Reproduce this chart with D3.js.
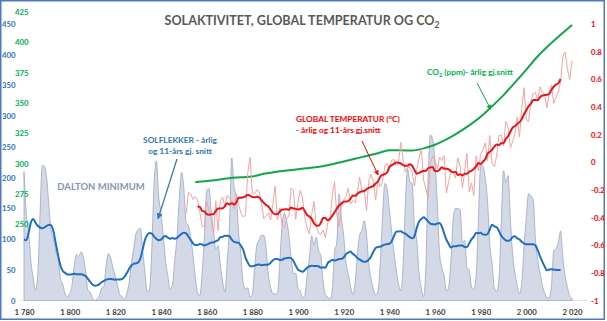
<!DOCTYPE html>
<html>
<head>
<meta charset="utf-8">
<script src="https://cdn.jsdelivr.net/npm/d3@7"></script>
<style>
  html, body { margin: 0; padding: 0; background: #fff; }
  svg { display: block; font-family: Lato, "Open Sans", sans-serif; font-weight: 700; }
</style>
</head>
<body>
<svg id="chart" width="607" height="321"></svg>
<script>
// ---- Data -------------------------------------------------------------

// Annual sunspot number, one value per year from 1780
const sunspotStart = 1780;
const sunspots = [
  209.8, 141.3, 113.5, 64.2, 38.0, 17.0, 40.2, 138.2, 220.0, 218.2,
  196.8, 149.8, 111.0, 100.0, 78.2, 68.3, 35.5, 26.7, 10.7, 6.8,
  11.3, 24.2, 56.7, 75.0, 71.8, 79.2, 70.3, 46.8, 16.8, 13.5,
  4.2, 0.0, 2.3, 8.3, 20.3, 23.2, 59.0, 76.3, 68.3, 52.9,
  38.5, 24.2, 9.2, 6.3, 2.2, 11.4, 28.2, 59.9, 83.0, 108.5,
  115.2, 117.4, 80.8, 44.3, 13.4, 19.5, 85.8, 192.7, 227.3, 168.7,
  143.0, 105.5, 63.3, 40.3, 18.1, 25.1, 65.8, 102.7, 166.3, 208.3,
  182.5, 126.3, 122.0, 102.7, 74.1, 39.0, 12.7, 8.2, 43.4, 104.4,
  178.3, 182.2, 146.6, 112.1, 83.5, 89.2, 57.8, 30.7, 13.9, 62.8,
  123.6, 232.0, 185.3, 169.2, 110.1, 74.5, 28.3, 18.9, 20.7, 5.7,
  10.0, 53.7, 90.5, 99.0, 106.1, 105.8, 86.3, 42.4, 21.8, 11.2,
  10.4, 11.8, 59.5, 121.7, 142.0, 130.0, 106.6, 69.4, 43.8, 44.4,
  20.2, 15.7, 4.6, 8.5, 40.8, 70.1, 105.5, 90.1, 102.8, 80.9,
  73.2, 30.9, 9.5, 6.0, 2.4, 16.1, 79.0, 95.0, 173.6, 134.6,
  105.7, 62.7, 43.5, 23.7, 9.7, 27.9, 74.0, 106.5, 114.7, 129.7,
  108.2, 59.4, 35.1, 18.6, 9.2, 14.6, 60.2, 132.8, 190.6, 182.6,
  148.0, 113.0, 79.2, 50.8, 27.1, 16.1, 55.3, 154.3, 214.7, 193.0,
  190.7, 118.9, 98.3, 45.0, 20.1, 6.6, 54.2, 200.7, 269.3, 261.7,
  225.1, 159.0, 76.4, 53.4, 39.9, 15.0, 22.0, 66.8, 132.9, 150.0,
  149.4, 148.0, 94.4, 97.6, 54.1, 49.2, 22.5, 18.4, 39.3, 131.0,
  220.1, 218.9, 198.9, 162.4, 91.0, 60.5, 20.6, 14.8, 33.9, 123.0,
  211.1, 191.8, 203.3, 133.0, 76.1, 44.9, 25.1, 11.6, 28.9, 88.3,
  136.3, 173.9, 170.4, 163.6, 99.3, 65.3, 45.8, 24.7, 12.6, 4.2,
  4.8, 24.9, 80.8, 84.5, 94.0, 113.3, 69.8, 39.8, 21.7, 7.0,
  3.6
];

// 11-year mean of the sunspot number, one value per year from 1780
const sunspotAvgStart = 1780;
const sunspotAvg = [
  99.2, 98.2, 109.7, 126.7, 132.5, 127.0, 121.6, 118.8, 117.6, 118.9,
  121.6, 123.3, 122.1, 110.5, 91.1, 72.3, 56.6, 48.1, 44.9, 42.3,
  42.4, 42.6, 43.6, 42.7, 42.9, 42.7, 41.7, 39.7, 35.3, 30.3,
  25.9, 24.1, 24.6, 26.6, 29.8, 32.1, 33.9, 34.8, 35.1, 34.6,
  33.8, 34.2, 34.3, 34.9, 38.6, 44.2, 51.4, 56.6, 59.7, 60.4,
  62.0, 68.7, 83.7, 98.9, 106.7, 109.8, 108.9, 104.0, 100.3, 98.0,
  99.0, 103.2, 104.8, 102.4, 100.6, 101.9, 100.4, 101.9, 105.5, 108.5,
  110.4, 109.3, 104.1, 98.7, 93.1, 90.3, 90.3, 92.1, 91.2, 89.5,
  90.9, 92.6, 94.2, 94.7, 96.5, 98.2, 103.1, 103.4, 105.5, 105.3,
  104.5, 98.9, 95.4, 94.5, 93.7, 88.9, 82.6, 69.7, 61.9, 56.1,
  55.7, 56.8, 58.1, 58.4, 57.5, 57.9, 58.1, 58.6, 61.5, 65.4,
  67.5, 67.6, 66.1, 66.2, 68.3, 69.1, 69.6, 68.9, 64.3, 56.9,
  50.4, 48.1, 46.6, 49.7, 53.1, 55.7, 56.6, 56.1, 56.2, 55.7,
  53.4, 54.2, 53.3, 60.9, 63.7, 66.0, 65.0, 66.2, 67.5, 67.8,
  70.1, 75.4, 77.9, 79.7, 75.7, 73.3, 69.1, 66.6, 64.3, 63.0,
  63.4, 66.4, 71.7, 79.4, 85.5, 87.2, 87.6, 89.4, 90.9, 91.6,
  92.3, 96.0, 104.5, 112.0, 112.2, 112.9, 110.3, 108.9, 105.8, 103.0,
  101.2, 104.6, 117.9, 128.3, 132.6, 135.5, 132.6, 128.8, 124.7, 124.2,
  123.8, 125.2, 126.3, 120.1, 109.3, 99.1, 92.1, 86.2, 88.1, 88.2,
  89.0, 89.7, 89.4, 86.9, 86.7, 93.1, 99.4, 104.0, 110.2, 109.6,
  110.2, 107.6, 106.9, 108.3, 115.9, 123.2, 120.6, 119.2, 113.2, 105.4,
  101.2, 98.0, 97.1, 98.4, 103.4, 104.6, 101.2, 99.3, 95.6, 92.6,
  91.6, 91.7, 91.6, 91.7, 89.5, 81.9, 71.8, 63.3, 55.5, 49.2,
  50.4, 50.9, 50.3, 50.0, 49.5, 49.5
];

// Global temperature anomaly (°C), annual values from 1851
const tempStart = 1851;
const tempAnnual = [
  -0.373, -0.218, -0.228, -0.269, -0.248, -0.272, -0.358, -0.461, -0.467, -0.284,
  -0.343, -0.407, -0.524, -0.278, -0.494, -0.279, -0.251, -0.321, -0.238, -0.262,
  -0.276, -0.335, -0.227, -0.304, -0.368, -0.395, -0.384, -0.075, 0.035, -0.230,
  -0.227, -0.200, -0.213, -0.296, -0.409, -0.389, -0.367, -0.418, -0.307, -0.171,
  -0.416, -0.330, -0.455, -0.473, -0.410, -0.390, -0.186, -0.206, -0.412, -0.289,
  -0.203, -0.259, -0.402, -0.479, -0.520, -0.377, -0.283, -0.465, -0.511, -0.522,
  -0.490, -0.544, -0.437, -0.424, -0.244, -0.141, -0.383, -0.468, -0.333, -0.275,
  -0.247, -0.187, -0.302, -0.276, -0.294, -0.215, -0.108, -0.210, -0.206, -0.350,
  -0.137, -0.087, -0.137, -0.273, -0.131, -0.178, -0.147, -0.026, -0.006, -0.052,
  0.014, 0.020, -0.027, -0.004, 0.144, 0.025, -0.071, -0.038, -0.039, -0.074,
  -0.173, -0.052, 0.028, 0.097, -0.129, -0.190, -0.267, -0.007, 0.046, 0.017,
  -0.049, 0.038, 0.014, 0.048, -0.223, -0.140, -0.068, -0.074, -0.113, 0.032,
  -0.027, -0.186, -0.065, 0.062, -0.214, -0.149, -0.241, 0.047, -0.062, 0.057,
  0.092, 0.140, 0.011, 0.194, -0.014, -0.030, 0.045, 0.192, 0.198, 0.118,
  0.296, 0.254, 0.105, 0.148, 0.208, 0.325, 0.183, 0.390, 0.539, 0.306,
  0.294, 0.441, 0.496, 0.505, 0.447, 0.545, 0.506, 0.491, 0.395, 0.506,
  0.560, 0.425, 0.470, 0.514, 0.579, 0.763, 0.797, 0.677, 0.597, 0.736
];

// 11-year mean of the temperature anomaly, one value per year from 1856
const tempAvgStart = 1856;
const tempAvg = [
  -0.320, -0.323, -0.351, -0.356, -0.376, -0.379, -0.377, -0.374, -0.353, -0.335,
  -0.334, -0.333, -0.317, -0.297, -0.305, -0.296, -0.306, -0.290, -0.257, -0.256,
  -0.253, -0.246, -0.235, -0.242, -0.251, -0.253, -0.250, -0.254, -0.275, -0.293,
  -0.310, -0.320, -0.343, -0.366, -0.377, -0.375, -0.357, -0.342, -0.341, -0.340,
  -0.343, -0.328, -0.335, -0.337, -0.341, -0.338, -0.329, -0.354, -0.382, -0.392,
  -0.410, -0.441, -0.457, -0.459, -0.438, -0.403, -0.404, -0.421, -0.409, -0.387,
  -0.362, -0.335, -0.313, -0.298, -0.286, -0.284, -0.281, -0.265, -0.241, -0.243,
  -0.230, -0.216, -0.211, -0.208, -0.195, -0.185, -0.179, -0.171, -0.153, -0.139,
  -0.105, -0.091, -0.086, -0.074, -0.036, -0.022, -0.012, -0.002, -0.003, -0.009,
  -0.020, -0.026, -0.026, -0.014, -0.026, -0.056, -0.083, -0.077, -0.069, -0.064,
  -0.062, -0.043, -0.037, -0.035, -0.064, -0.065, -0.054, -0.036, -0.046, -0.047,
  -0.051, -0.064, -0.073, -0.069, -0.092, -0.086, -0.095, -0.084, -0.083, -0.068,
  -0.062, -0.047, -0.029, -0.006, -0.013, 0.004, 0.022, 0.061, 0.075, 0.091,
  0.113, 0.128, 0.124, 0.137, 0.138, 0.169, 0.188, 0.220, 0.251, 0.261,
  0.277, 0.290, 0.312, 0.349, 0.376, 0.406, 0.423, 0.451, 0.451, 0.448,
  0.471, 0.483, 0.486, 0.488, 0.494, 0.523, 0.546, 0.562, 0.571, 0.602
];

// Atmospheric CO2 (ppm)
const co2Years = [1855, 1860, 1865, 1870, 1875, 1880, 1885, 1890, 1895, 1900,
                  1905, 1910, 1915, 1920, 1925, 1930, 1935, 1940, 1945, 1950,
                  1955, 1960, 1965, 1970, 1975, 1980, 1985, 1990, 1995, 2000,
                  2005, 2010, 2015, 2020];
const co2 = [284.6, 285.6, 286.8, 288.0, 288.7, 289.4, 291.6, 293.2, 294.3, 295.4,
             296.5, 297.6, 299.5, 301.7, 304.0, 306.3, 308.6, 311.0, 311.0, 310.8,
             312.6, 315.6, 320.0, 325.4, 331.5, 338.6, 347.3, 356.5, 366.8, 377.5,
             388.5, 397.8, 406.2, 414.3];

// Axis ticks
const yearTicks = [1780, 1800, 1820, 1840, 1860, 1880, 1900, 1920, 1940, 1960, 1980, 2000, 2020];
const sunTicks = [0, 50, 100, 150, 200, 250, 300, 350, 400, 450];
const co2Ticks = [250, 275, 300, 325, 350, 375, 400, 425];
const tempTicks = [-1, -0.8, -0.6, -0.4, -0.2, 0, 0.2, 0.4, 0.6, 0.8, 1];

// ---- Helpers ----------------------------------------------------------
const series = (start, vals) => vals.map((v, i) => ({ year: start + i, value: v }));
const sunData = series(sunspotStart, sunspots);
const sunAvgData = series(sunspotAvgStart, sunspotAvg);
const tempData = series(tempStart, tempAnnual);
const tempAvgData = series(tempAvgStart, tempAvg);
const co2Data = co2Years.map((y, i) => ({ year: y, value: co2[i] }));

// ---- Scales -----------------------------------------------------------
const x = d3.scaleLinear().domain([1780, 2020]).range([24, 572]);
const ySun = d3.scaleLinear().domain([0, 450]).range([300.5, 24]);
const yTemp = d3.scaleLinear().domain([-1, 1]).range([300.5, 24]);
const yCo2 = d3.scaleLinear().domain([250, 425]).range([224.3, 12]);

const C = {
  title: "#595959",
  blue: "#1f6fbf",
  blueText: "#2e75b6",
  green: "#12a54a",
  greenText: "#00b050",
  red: "#e8141b",
  redLight: "#f6a3a3",
  redText: "#ff0000",
  areaFill: "#d4d9e7",
  areaStroke: "#9ca7c2",
  dalton: "#8497b0",
  axisText: "#404040"
};

const svg = d3.select("#chart");

// Frame
svg.append("rect")
  .attr("x", 0.75).attr("y", 0.75).attr("width", 603.5).attr("height", 318.5)
  .attr("fill", "#fff").attr("stroke", "#4f79c4").attr("stroke-width", 1.5);

// Arrow markers
const defs = svg.append("defs");
[["arrBlue", C.blueText], ["arrRed", C.redText], ["arrGreen", C.green]].forEach(([id, col]) => {
  defs.append("marker")
    .attr("id", id).attr("viewBox", "0 0 10 10").attr("refX", 9).attr("refY", 5)
    .attr("markerWidth", 5).attr("markerHeight", 5).attr("orient", "auto")
    .append("path").attr("d", "M0,0 L10,5 L0,10 z").attr("fill", col);
});

// Baseline
svg.append("line")
  .attr("x1", 20).attr("x2", 588).attr("y1", ySun(0)).attr("y2", ySun(0))
  .attr("stroke", "#e2e2e2").attr("stroke-width", 1);

// Sunspot area
svg.append("path").datum(sunData)
  .attr("d", d3.area().x(d => x(d.year)).y0(ySun(0)).y1(d => ySun(d.value)).curve(d3.curveMonotoneX))
  .attr("fill", C.areaFill).attr("stroke", C.areaStroke).attr("stroke-width", 0.8);

// Sunspot 11-year mean
svg.append("path").datum(sunAvgData)
  .attr("d", d3.line().x(d => x(d.year)).y(d => ySun(d.value)).curve(d3.curveMonotoneX))
  .attr("fill", "none").attr("stroke", C.blue).attr("stroke-width", 2);

// CO2
svg.append("path").datum(co2Data)
  .attr("d", d3.line().x(d => x(d.year)).y(d => yCo2(d.value)).curve(d3.curveMonotoneX))
  .attr("fill", "none").attr("stroke", C.green).attr("stroke-width", 2);

// Temperature, annual
svg.append("path").datum(tempData)
  .attr("d", d3.line().x(d => x(d.year)).y(d => yTemp(d.value)))
  .attr("fill", "none").attr("stroke", C.redLight).attr("stroke-width", 1);

// Temperature, 11-year mean
svg.append("path").datum(tempAvgData)
  .attr("d", d3.line().x(d => x(d.year)).y(d => yTemp(d.value)).curve(d3.curveMonotoneX))
  .attr("fill", "none").attr("stroke", C.red).attr("stroke-width", 2);

// ---- Axes -------------------------------------------------------------
const styleAxis = (g, color, size) => {
  g.select(".domain").remove();
  g.selectAll(".tick line").remove();
  g.selectAll("text").attr("fill", color).style("font-size", size + "px")
    .style("font-family", "Lato, 'Open Sans', sans-serif").style("font-weight", 700);
};

svg.append("g").attr("transform", "translate(0," + ySun(0) + ")")
  .call(d3.axisBottom(x).tickValues(yearTicks).tickSize(0).tickPadding(8.5)
    .tickFormat(d => { const s = String(d); return s.slice(0, 1) + " " + s.slice(1); }))
  .call(g => styleAxis(g, C.axisText, 7.8));

svg.append("g").attr("transform", "translate(15.5,0)")
  .call(d3.axisLeft(ySun).tickValues(sunTicks).tickSize(0).tickPadding(0))
  .call(g => styleAxis(g, C.blueText, 7.8));

svg.append("g").attr("transform", "translate(28.5,0)")
  .call(d3.axisLeft(yCo2).tickValues(co2Ticks).tickSize(0).tickPadding(0))
  .call(g => styleAxis(g, C.greenText, 7.8));

svg.append("g").attr("transform", "translate(591,0)")
  .call(d3.axisRight(yTemp).tickValues(tempTicks).tickSize(0).tickPadding(0)
    .tickFormat(d => String(+d.toFixed(1))))
  .call(g => styleAxis(g, C.redText, 7.8));

// ---- Title ------------------------------------------------------------
const title = svg.append("text").attr("x", 302).attr("y", 25).attr("text-anchor", "middle")
  .attr("fill", C.title).style("font-size", "12.6px");
title.append("tspan").text("SOLAKTIVITET, GLOBAL TEMPERATUR OG CO");
title.append("tspan").attr("dy", 3).style("font-size", "8.5px").text("2");

// ---- Annotations -------------------------------------------------------
svg.append("text").attr("x", 101).attr("y", 189.5).attr("text-anchor", "middle")
  .attr("fill", C.dalton).style("font-size", "9.5px").text("DALTON MINIMUM");

const sol = svg.append("text").attr("text-anchor", "middle").attr("fill", C.blueText).style("font-size", "8.3px");
sol.append("tspan").attr("x", 180).attr("y", 143).text("SOLFLEKKER - årlig");
sol.append("tspan").attr("x", 180).attr("y", 154).text("og 11-års gj. snitt");
svg.append("line")
  .attr("x1", 177).attr("y1", 159).attr("x2", x(1838.7)).attr("y2", ySun(133))
  .attr("stroke", C.blueText).attr("stroke-width", 1.2).attr("marker-end", "url(#arrBlue)");

const gt = svg.append("text").attr("fill", C.redText).style("font-size", "8.3px");
gt.append("tspan").attr("x", 296).attr("y", 122).text("GLOBAL TEMPERATUR (");
gt.append("tspan").attr("dy", -3).style("font-size", "6px").text("o");
gt.append("tspan").attr("dy", 3).text("C)");
gt.append("tspan").attr("x", 296).attr("y", 133).text("- årlig og 11-års gj.snitt");
svg.append("line")
  .attr("x1", 362).attr("y1", 141).attr("x2", x(1935.1)).attr("y2", yTemp(-0.092))
  .attr("stroke", C.redText).attr("stroke-width", 1).attr("marker-end", "url(#arrRed)");

const ct = svg.append("text").attr("x", 427).attr("y", 75).attr("fill", C.greenText).style("font-size", "8.3px");
ct.append("tspan").text("CO");
ct.append("tspan").attr("dy", 2).style("font-size", "5.5px").text("2");
ct.append("tspan").attr("dy", -2).text(" (ppm)- årlig gj.snitt");
svg.append("line")
  .attr("x1", 477).attr("y1", 83).attr("x2", x(1984.4)).attr("y2", yCo2(344.8))
  .attr("stroke", C.green).attr("stroke-width", 1).attr("marker-end", "url(#arrGreen)");
</script>
</body>
</html>
